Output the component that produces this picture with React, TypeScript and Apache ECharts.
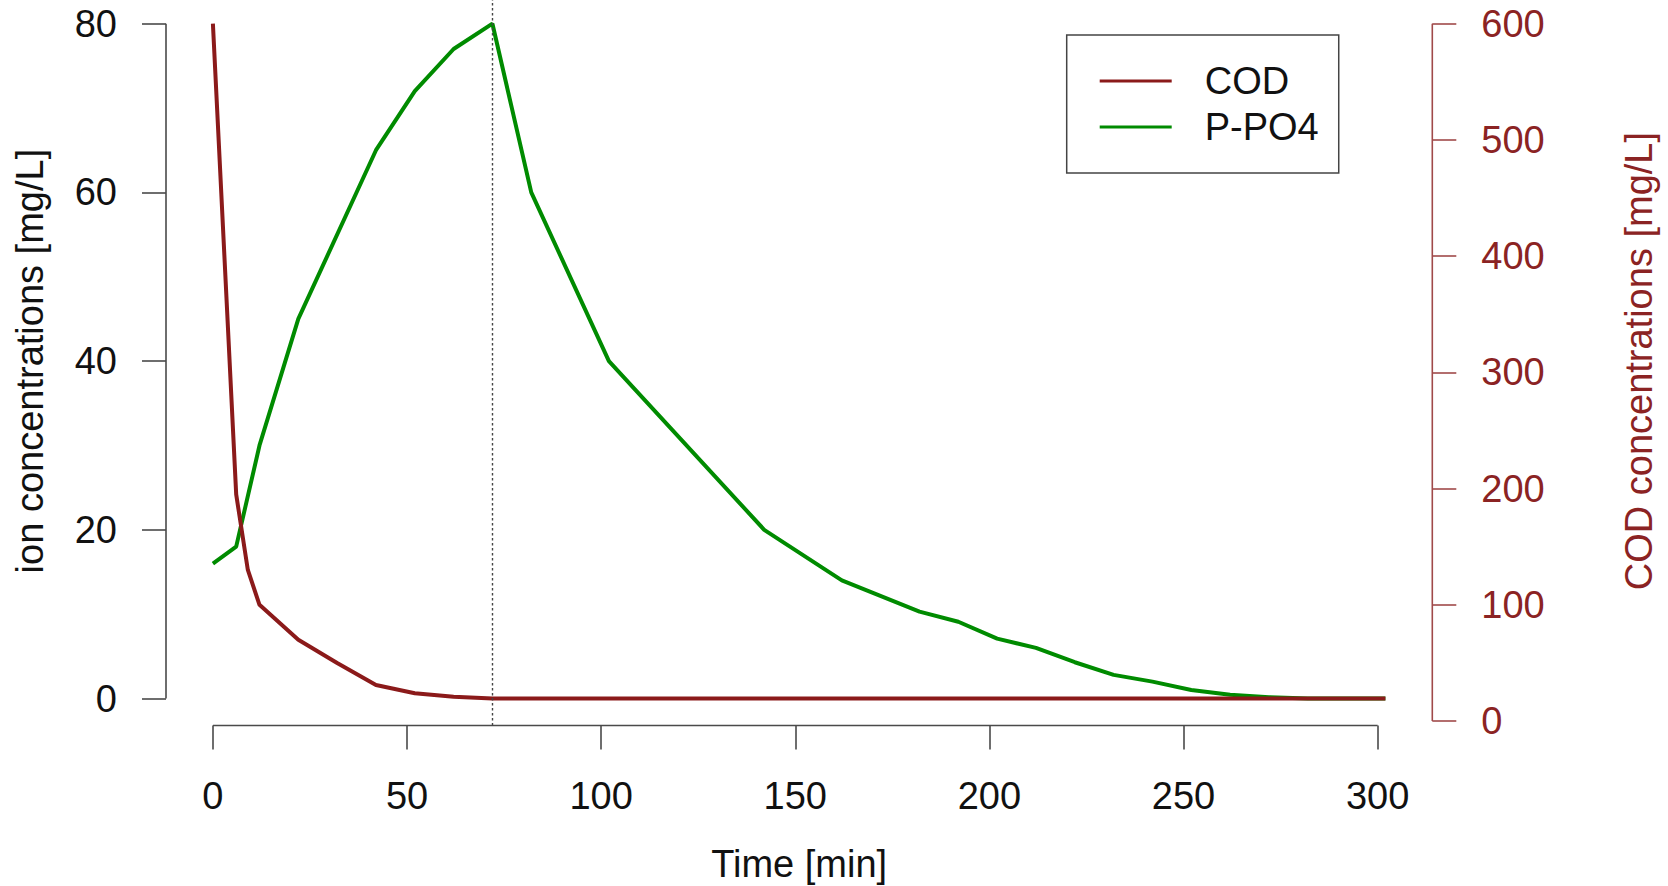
import React, { useEffect, useRef } from "react";
import * as echarts from "echarts";

// ---- data ----
const po4Time = [0, 6, 12, 22, 42, 52, 62, 72, 82, 102, 142, 162, 182, 192, 202, 212, 222, 232, 242, 252, 262, 272, 282, 292, 302];
const po4Values = [16, 18, 30, 45, 65, 72, 77, 80, 60, 40, 20, 14, 10.3, 9.1, 7.1, 6, 4.3, 2.8, 2.0, 1.0, 0.45, 0.15, 0, 0, 0];

const codTime = [0, 6, 9, 12, 22, 32, 42, 52, 62, 72, 302];
const codValues = [600, 195, 130, 100, 70, 50, 31, 24, 21, 19.4, 19.4];

const peakTime = 72;

const xTicks = [0, 50, 100, 150, 200, 250, 300];
const leftTicks = [0, 20, 40, 60, 80];
const rightTicks = [0, 100, 200, 300, 400, 500, 600];

const seriesNames = ["COD", "P-PO4"];

// ---- styles ----
const FONT = "'Liberation Sans', Arial, Helvetica, sans-serif";
const FS = 38;
const AXIS_GRAY = "#4a4a4a";
const COD_COLOR = "#8B1A1A";
const COD_AXIS = "#8B2323";
const COD_AXIS_LINE = "#a04a4a";
const PO4_COLOR = "#008B00";

export default function App() {
  const ref = useRef<HTMLDivElement>(null);

  useEffect(() => {
    document.body.style.margin = "0";
    if (!ref.current) return;
    const chart = echarts.init(ref.current, undefined, { renderer: "svg" });

    const option: any = {
      animation: false,
      backgroundColor: "#ffffff",
      grid: {
        left: 166,
        right: 235.7,
        top: -3.3,
        bottom: 160.5,
        containLabel: false,
        outerBoundsMode: "none",
      },
      legend: {
        data: seriesNames,
        orient: "vertical",
        left: 1066.7,
        top: 35,
        padding: [27, 20, 27, 33],
        borderColor: "#444",
        borderWidth: 1.5,
        icon: "rect",
        itemWidth: 72,
        itemHeight: 2.8,
        itemGap: 8,
        textStyle: {
          fontSize: FS,
          fontFamily: FONT,
          color: "#111",
          padding: [0, 0, 0, 28],
        },
      },
      xAxis: {
        type: "value",
        min: -12.08,
        max: 314.08,
        axisLine: { show: false, onZero: false },
        splitLine: { show: false },
        axisTick: {
          show: true,
          customValues: xTicks,
          length: 24,
          lineStyle: { color: AXIS_GRAY, width: 1.6 },
        },
        axisLabel: {
          customValues: xTicks,
          margin: 51,
          fontSize: FS,
          fontFamily: FONT,
          color: "#111",
        },
        name: "Time [min]",
        nameLocation: "middle",
        nameGap: 119,
        nameTextStyle: { fontSize: FS, fontFamily: FONT, color: "#111" },
      },
      yAxis: [
        {
          type: "value",
          position: "left",
          min: -3.2,
          max: 83.2,
          axisLine: { show: false, onZero: false },
          splitLine: { show: false },
          axisTick: {
            show: true,
            customValues: leftTicks,
            length: 24,
            lineStyle: { color: AXIS_GRAY, width: 1.6 },
          },
          axisLabel: {
            customValues: leftTicks,
            margin: 49,
            fontSize: FS,
            fontFamily: FONT,
            color: "#111",
          },
          name: "ion concentrations [mg/L]",
          nameLocation: "middle",
          nameRotate: 90,
          nameGap: 117,
          nameTextStyle: { fontSize: FS, fontFamily: FONT, color: "#111" },
        },
        {
          type: "value",
          position: "right",
          min: -3.8,
          max: 623.2,
          axisLine: { show: false, onZero: false },
          splitLine: { show: false },
          axisTick: {
            show: true,
            customValues: rightTicks,
            length: 24,
            lineStyle: { color: COD_AXIS_LINE, width: 1.6 },
          },
          axisLabel: {
            customValues: rightTicks,
            margin: 49,
            fontSize: FS,
            fontFamily: FONT,
            color: COD_AXIS,
          },
          name: "COD concentrations [mg/L]",
          nameLocation: "middle",
          nameRotate: 90,
          nameGap: 188,
          nameTextStyle: { fontSize: FS, fontFamily: FONT, color: COD_AXIS },
        },
      ],
      series: [
        {
          name: "P-PO4",
          type: "line",
          yAxisIndex: 0,
          symbol: "none",
          data: po4Time.map((t, i) => [t, po4Values[i]]),
          lineStyle: { color: PO4_COLOR, width: 4 },
          itemStyle: { color: PO4_COLOR },
          z: 2,
          markLine: {
            silent: true,
            symbol: ["none", "none"],
            label: { show: false },
            lineStyle: { color: "#444", width: 1.4, type: [2.5, 2.5] },
            data: [{ xAxis: peakTime }],
          },
        },
        {
          name: "COD",
          type: "line",
          yAxisIndex: 1,
          symbol: "none",
          data: codTime.map((t, i) => [t, codValues[i]]),
          lineStyle: { color: COD_COLOR, width: 4 },
          itemStyle: { color: COD_COLOR },
          z: 3,
        },
      ],
    };

    chart.setOption(option);

    // axis lines spanning only from first to last tick (as in base R plots)
    const px = (v: number) => chart.convertToPixel({ xAxisIndex: 0 }, v) as number;
    const pyL = (v: number) => chart.convertToPixel({ yAxisIndex: 0 }, v) as number;
    const pyR = (v: number) => chart.convertToPixel({ yAxisIndex: 1 }, v) as number;

    const gridLeft = px(-12.08);
    const gridRight = px(314.08);
    const gridBottom = pyL(-3.2);

    chart.setOption({
      graphic: [
        {
          type: "line",
          shape: { x1: gridLeft, y1: pyL(leftTicks[0]), x2: gridLeft, y2: pyL(leftTicks[leftTicks.length - 1]) },
          style: { stroke: AXIS_GRAY, lineWidth: 1.6 },
          silent: true,
        },
        {
          type: "line",
          shape: { x1: gridRight, y1: pyR(rightTicks[0]), x2: gridRight, y2: pyR(rightTicks[rightTicks.length - 1]) },
          style: { stroke: COD_AXIS_LINE, lineWidth: 1.6 },
          silent: true,
        },
        {
          type: "line",
          shape: { x1: px(xTicks[0]), y1: gridBottom, x2: px(xTicks[xTicks.length - 1]), y2: gridBottom },
          style: { stroke: AXIS_GRAY, lineWidth: 1.6 },
          silent: true,
        },
      ],
    });

    return () => {
      chart.dispose();
    };
  }, []);

  return <div ref={ref} style={{ width: 1668, height: 886, background: "#fff" }} />;
}
